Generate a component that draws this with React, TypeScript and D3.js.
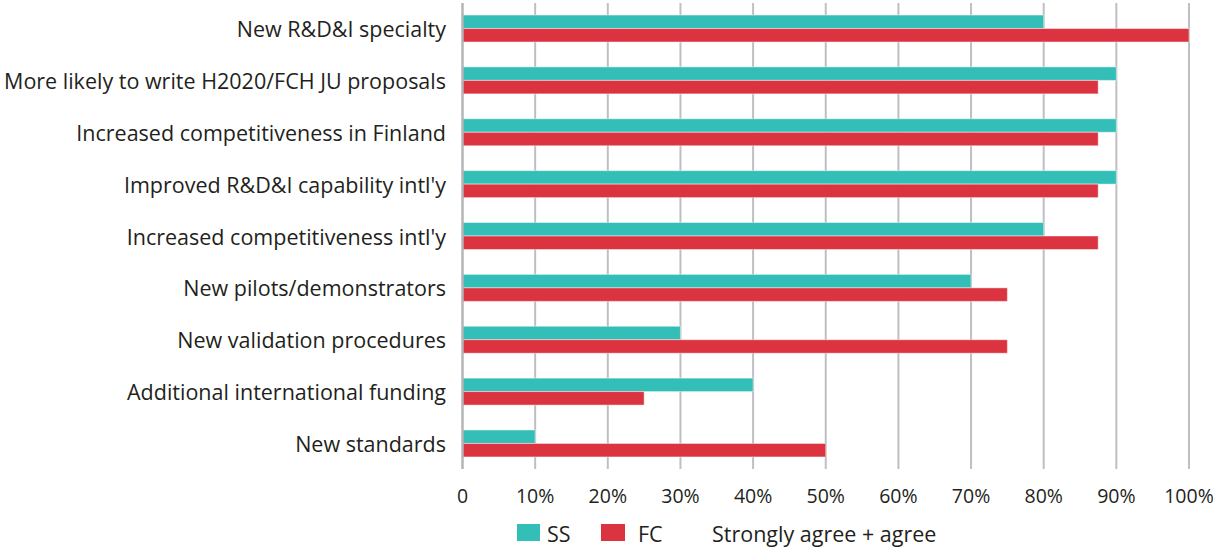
import React from "react";
import * as d3 from "d3";

const categories = [
  "New R&D&I specialty",
  "More likely to write H2020/FCH JU proposals",
  "Increased competitiveness in Finland",
  "Improved R&D&I capability intl'y",
  "Increased competitiveness intl'y",
  "New pilots/demonstrators",
  "New validation procedures",
  "Additional international funding",
  "New standards",
];
const ssValues = [80, 90, 90, 90, 80, 70, 30, 40, 10];
const fcValues = [100, 87.5, 87.5, 87.5, 87.5, 75, 75, 25, 50];
const tickValues = [0, 10, 20, 30, 40, 50, 60, 70, 80, 90, 100];
const tickLabels = ["0", "10%", "20%", "30%", "40%", "50%", "60%", "70%", "80%", "90%", "100%"];
const seriesNames = ["SS", "FC"];
const legendNote = "Strongly agree + agree";

const W = 1213;
const H = 552;
const TEAL = "#33bfb7";
const RED = "#dc3340";
const GRID = "#bfbec3";
const TEXT = "#231f20";
const FONT = "'Open Sans', sans-serif";

export default function App() {
  const x = d3.scaleLinear().domain([0, 100]).range([462.5, 1189]);
  const y = d3
    .scaleBand<string>()
    .domain(categories)
    .range([2.6, 469.4])
    .paddingInner(0.48)
    .paddingOuter(0.24);
  const sub = d3.scaleBand<string>().domain(seriesNames).range([0, y.bandwidth()]);
  const series = [
    { name: "SS", values: ssValues, color: TEAL },
    { name: "FC", values: fcValues, color: RED },
  ];
  return (
    <svg width={W} height={H} style={{ position: "absolute", left: 0, top: 0, background: "#fff" }}>
      {tickValues.slice(1).map((t) => (
        <line key={t} x1={x(t)} x2={x(t)} y1={3} y2={469} stroke={GRID} strokeWidth={2} />
      ))}
      {series.map((s) =>
        s.values.map((v, i) => (
          <rect
            key={s.name + i}
            x={x(0)}
            y={(y(categories[i]) as number) + (sub(s.name) as number)}
            width={x(v) - x(0)}
            height={sub.bandwidth()}
            fill={s.color}
            stroke="#ffffff"
            strokeOpacity={0.45}
            strokeWidth={1}
          />
        ))
      )}
      <line x1={x(0)} x2={x(0)} y1={3} y2={469} stroke="#b5b4b9" strokeWidth={2.5} />
      {categories.map((c) => (
        <text
          key={c}
          x={446}
          y={(y(c) as number) + y.bandwidth() / 2}
          textAnchor="end"
          dominantBaseline="central"
          fontFamily={FONT}
          fontSize={21.5}
          fill={TEXT}
        >
          {c}
        </text>
      ))}
      {tickValues.map((t, i) => (
        <text
          key={t}
          x={x(t)}
          y={495}
          textAnchor="middle"
          dominantBaseline="central"
          fontFamily={FONT}
          fontSize={19.5}
          fill={TEXT}
        >
          {tickLabels[i]}
        </text>
      ))}
      <rect x={517} y={524} width={23} height={17} fill={TEAL} />
      <text x={547} y={533} dominantBaseline="central" fontFamily={FONT} fontSize={21.5} fill={TEXT}>
        {seriesNames[0]}
      </text>
      <rect x={601} y={524} width={24} height={17} fill={RED} />
      <text x={638} y={533} dominantBaseline="central" fontFamily={FONT} fontSize={21.5} fill={TEXT}>
        {seriesNames[1]}
      </text>
      <text x={712} y={533} dominantBaseline="central" fontFamily={FONT} fontSize={21.5} fill={TEXT}>
        {legendNote}
      </text>
    </svg>
  );
}
